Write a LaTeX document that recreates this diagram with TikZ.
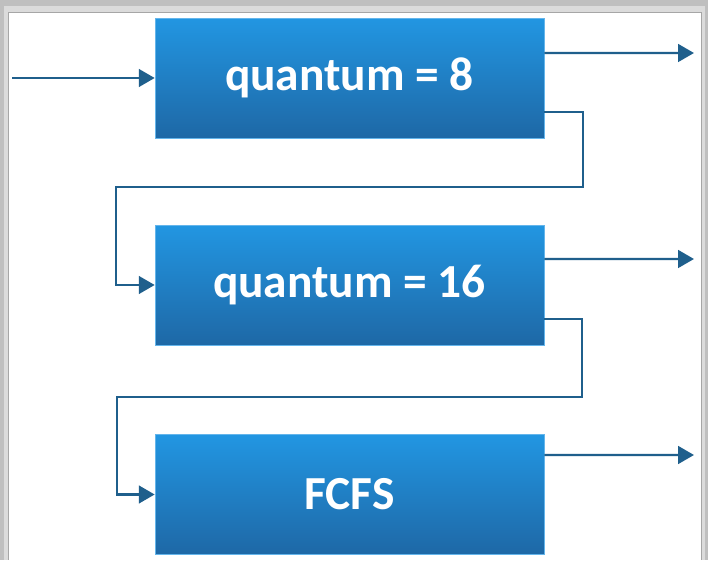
\documentclass[tikz,border=0pt]{standalone}
\usepackage{fontspec}
\setmainfont{Carlito}
\usetikzlibrary{calc,positioning,arrows.meta}

\definecolor{boxtop}{RGB}{34,150,226}
\definecolor{boxbottom}{RGB}{30,104,166}
\definecolor{linkblue}{RGB}{31,95,140}

\begin{document}
\begin{tikzpicture}[
    x=0.02cm, y=-0.02cm,
    queue/.style={rectangle, top color=boxtop, bottom color=boxbottom, draw=boxtop!70!white, line width=0.4pt, minimum width=7.78cm, minimum height=2.4cm, text=white, font=\fontsize{27}{30}\selectfont\bfseries},
    arrow/.style={-{Triangle[length=9pt, width=10pt]}, line width=1.4pt, linkblue},
]

% === FRAME ===
\fill[black!25] (0,0) rectangle (708,560);
\fill[black!14] (4,6) rectangle (705,560);
\fill[white] (8,12) rectangle (701,560);
\draw[black!35, line width=0.5pt] (8,560) -- (8,12) -- (701,12) -- (701,560);
\useasboundingbox (0,0) rectangle (708,560);

% === QUEUES ===
\node[queue] at (349.5,78) (q8) {\raisebox{-2pt}{quantum = 8}};
\node[queue] at (349.5,285) (q16) {\raisebox{-2pt}{quantum = 16}};
\node[queue] at (349.5,494.5) (fcfs) {\raisebox{-2pt}{FCFS}};

% === END POINTS ===
\coordinate (in) at (12,78);
\coordinate (out1) at (694,53);
\coordinate (out2) at (694,259);
\coordinate (out3) at (694,455);
\coordinate (turn1) at (583,187);
\coordinate (back1) at (116,187);
\coordinate (turn2) at (582,397);
\coordinate (back2) at (117,397);

% === ARROWS ===
% Arrival
\draw[arrow] (in) -- (q8.west);

% Finished jobs
\draw[arrow] ([yshift=0.5cm]q8.east) -- (out1);
\draw[arrow] ([yshift=0.52cm]q16.east) -- (out2);
\draw[arrow] ([yshift=0.79cm]fcfs.east) -- (out3);

% Demotion to lower queue
\draw[arrow] ([yshift=-0.68cm]q8.east) -| (turn1) -- (back1) |- (q16.west);
\draw[arrow] ([yshift=-0.68cm]q16.east) -| (turn2) -- (back2) |- (fcfs.west);

\end{tikzpicture}
\end{document}
